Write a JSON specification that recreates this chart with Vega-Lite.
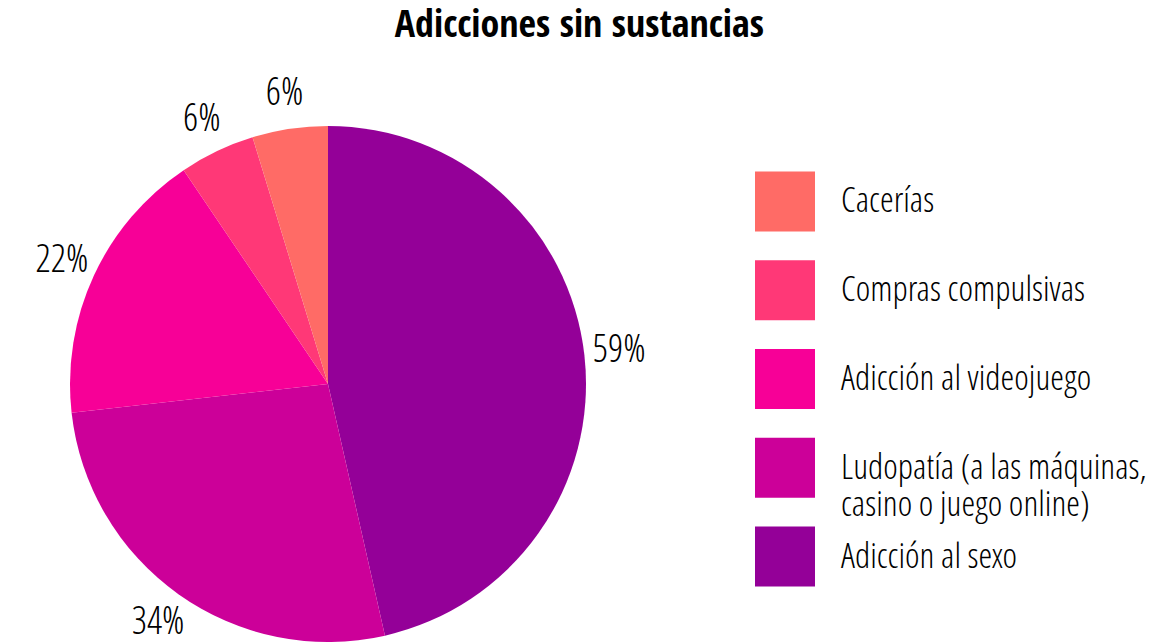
{
  "$schema": "https://vega.github.io/schema/vega-lite/v6.json",
  "padding": {"left": 0, "top": 7, "right": 0, "bottom": 0},
  "config": {"view": {"stroke": null}},
  "title": {
    "text": "Adicciones sin sustancias",
    "font": "Open Sans Condensed, Liberation Sans Narrow, DejaVu Sans Condensed, sans-serif",
    "fontSize": 38,
    "fontWeight": "bold",
    "color": "#000000",
    "anchor": "middle",
    "frame": "bounds",
    "dx": 6,
    "offset": 30
  },
  "data": {
    "values": [
      {"categoria": "Adicción al sexo", "valor": 59, "orden": 1, "etiqueta": "59%", "nombre": "\u00a0Adicción al sexo"},
      {"categoria": "Ludopatía", "valor": 34, "orden": 2, "etiqueta": "34%", "nombre": "Ludopatía (a las máquinas,\ncasino o juego online)"},
      {"categoria": "Adicción al videojuego", "valor": 22, "orden": 3, "etiqueta": "22%", "nombre": "Adicción al videojuego"},
      {"categoria": "Compras compulsivas", "valor": 6, "orden": 4, "etiqueta": "6%", "nombre": "\u00a0Compras compulsivas"},
      {"categoria": "Cacerías", "valor": 6, "orden": 5, "etiqueta": "6%", "nombre": "Cacerías"}
    ]
  },
  "bounds": "flush",
  "spacing": 99,
  "hconcat": [
    {
      "width": 656,
      "height": 516,
      "encoding": {
        "theta": {"field": "valor", "type": "quantitative", "stack": true},
        "order": {"field": "orden", "type": "quantitative"},
        "color": {
          "field": "categoria",
          "type": "nominal",
          "scale": {
            "domain": ["Cacerías", "Compras compulsivas", "Adicción al videojuego", "Ludopatía", "Adicción al sexo"],
            "range": ["#ff6b66", "#ff3877", "#f70097", "#cc0099", "#940098"]
          },
          "legend": null
        }
      },
      "layer": [
        {"mark": {"type": "arc", "outerRadius": 258}},
        {
          "mark": {
            "type": "text",
            "radius": 293,
            "font": "Open Sans Condensed Light, Open Sans Condensed, Liberation Sans Narrow, sans-serif",
            "fontWeight": 300,
            "fontSize": 38,
            "align": "center",
            "baseline": "middle"
          },
          "encoding": {
            "text": {"field": "etiqueta", "type": "nominal"},
            "color": {"value": "#000000"},
            "detail": {"field": "categoria", "type": "nominal"}
          }
        }
      ]
    },
    {
      "width": 60,
      "height": 506,
      "encoding": {
        "y": {
          "field": "categoria",
          "type": "nominal",
          "sort": ["Cacerías", "Compras compulsivas", "Adicción al videojuego", "Ludopatía", "Adicción al sexo"],
          "scale": {"type": "point", "padding": 0.85},
          "axis": null
        }
      },
      "layer": [
        {
          "mark": {"type": "square", "size": 3600, "opacity": 1, "filled": true, "strokeWidth": 0},
          "encoding": {
            "color": {
              "field": "categoria",
              "type": "nominal",
              "scale": {
                "domain": ["Cacerías", "Compras compulsivas", "Adicción al videojuego", "Ludopatía", "Adicción al sexo"],
                "range": ["#ff6b66", "#ff3877", "#f70097", "#cc0099", "#940098"]
              },
              "legend": null
            }
          }
        },
        {
          "mark": {
            "type": "text",
            "align": "left",
            "baseline": "middle",
            "dx": 56,
            "font": "Open Sans Condensed Light, Open Sans Condensed, Liberation Sans Narrow, sans-serif",
            "fontWeight": 300,
            "fontSize": 35,
            "lineHeight": 37,
            "lineBreak": "\n",
            "color": "#000000"
          },
          "encoding": {
            "text": {"field": "nombre", "type": "nominal"}
          }
        }
      ]
    }
  ]
}
